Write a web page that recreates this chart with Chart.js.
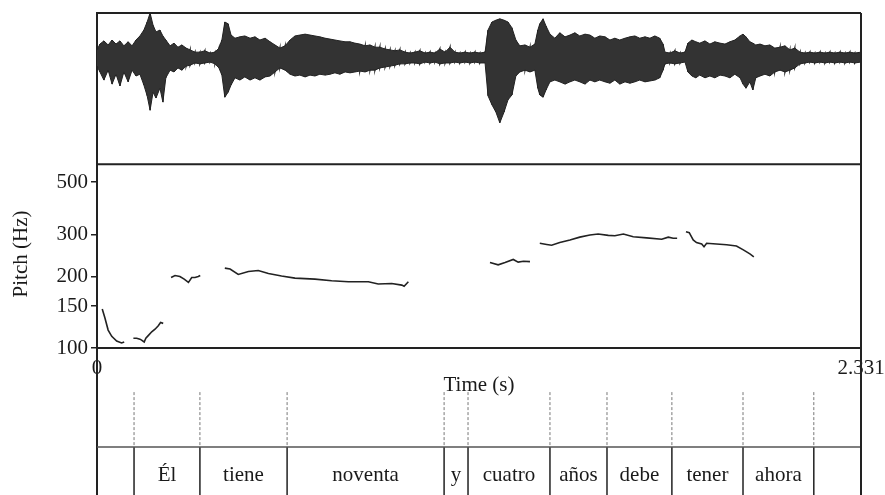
<!DOCTYPE html>
<html lang="es">
<head>
  <meta charset="UTF-8">
  <title>Pitch - Él tiene noventa y cuatro años</title>
  <script src="https://cdn.jsdelivr.net/npm/chart.js"></script>
  <style>
    body { margin: 0; background: #fff; }
    canvas { display: block; }
  </style>
</head>
<body>
  <canvas id="praatChart" width="885" height="495"></canvas>
  <script>
    // time span of the sound (s)
    const T_END = 2.331;
    const TIME_TICKS = [0, 2.331];

    // waveform envelope (time s, upper / lower amplitude)
    const WAVE_T = [0.000, 0.009, 0.021, 0.034, 0.046, 0.058, 0.070, 0.082, 0.095, 0.107,
      0.119, 0.131, 0.143, 0.153, 0.162, 0.171, 0.180, 0.192, 0.201, 0.210,
      0.223, 0.235, 0.247, 0.259, 0.272, 0.284, 0.299, 0.314, 0.329, 0.345,
      0.360, 0.372, 0.381, 0.390, 0.400, 0.409, 0.421, 0.436, 0.451, 0.467,
      0.482, 0.497, 0.513, 0.528, 0.543, 0.558, 0.574, 0.589, 0.604, 0.619,
      0.635, 0.650, 0.665, 0.680, 0.696, 0.711, 0.726, 0.741, 0.757, 0.772,
      0.787, 0.802, 0.818, 0.833, 0.848, 0.863, 0.879, 0.894, 0.909, 0.924,
      0.940, 0.955, 0.970, 0.985, 1.001, 1.016, 1.031, 1.046, 1.062, 1.077,
      1.092, 1.107, 1.123, 1.138, 1.153, 1.168, 1.184, 1.193, 1.205, 1.217,
      1.229, 1.242, 1.254, 1.266, 1.278, 1.290, 1.306, 1.321, 1.336, 1.345,
      1.351, 1.361, 1.370, 1.382, 1.397, 1.412, 1.428, 1.443, 1.458, 1.473,
      1.489, 1.504, 1.519, 1.534, 1.550, 1.565, 1.580, 1.595, 1.611, 1.626,
      1.641, 1.656, 1.672, 1.687, 1.702, 1.717, 1.727, 1.733, 1.748, 1.763,
      1.779, 1.794, 1.803, 1.815, 1.827, 1.839, 1.855, 1.870, 1.885, 1.901,
      1.916, 1.931, 1.946, 1.962, 1.971, 1.980, 1.992, 2.001, 2.010, 2.023,
      2.038, 2.053, 2.068, 2.084, 2.099, 2.114, 2.129, 2.145, 2.160, 2.175,
      2.190, 2.206, 2.221, 2.236, 2.251, 2.267, 2.282, 2.297, 2.312, 2.331];
    const WAVE_HI = [0.18, 0.31, 0.38, 0.29, 0.40, 0.31, 0.38, 0.27, 0.36, 0.27,
      0.40, 0.49, 0.62, 0.80, 1.00, 0.73, 0.58, 0.62, 0.49, 0.40,
      0.27, 0.33, 0.24, 0.29, 0.22, 0.18, 0.13, 0.13, 0.16, 0.11,
      0.13, 0.22, 0.40, 0.80, 0.76, 0.51, 0.44, 0.47, 0.49, 0.44,
      0.47, 0.40, 0.44, 0.36, 0.29, 0.22, 0.27, 0.40, 0.49, 0.51,
      0.53, 0.51, 0.49, 0.47, 0.44, 0.42, 0.40, 0.38, 0.36, 0.36,
      0.33, 0.31, 0.27, 0.29, 0.24, 0.24, 0.20, 0.18, 0.16, 0.18,
      0.13, 0.11, 0.13, 0.16, 0.11, 0.13, 0.11, 0.20, 0.13, 0.24,
      0.13, 0.11, 0.13, 0.11, 0.13, 0.11, 0.13, 0.62, 0.80, 0.84,
      0.87, 0.84, 0.80, 0.67, 0.40, 0.27, 0.29, 0.24, 0.31, 0.62,
      0.76, 0.87, 0.71, 0.53, 0.44, 0.56, 0.47, 0.51, 0.56, 0.49,
      0.53, 0.51, 0.44, 0.49, 0.47, 0.40, 0.44, 0.40, 0.44, 0.47,
      0.49, 0.44, 0.47, 0.44, 0.49, 0.44, 0.31, 0.13, 0.11, 0.16,
      0.11, 0.13, 0.33, 0.40, 0.36, 0.33, 0.38, 0.31, 0.36, 0.33,
      0.31, 0.36, 0.40, 0.49, 0.53, 0.47, 0.36, 0.33, 0.29, 0.31,
      0.27, 0.29, 0.22, 0.24, 0.27, 0.18, 0.22, 0.13, 0.11, 0.13,
      0.11, 0.13, 0.11, 0.13, 0.11, 0.13, 0.11, 0.13, 0.11, 0.13];
    const WAVE_LO = [-0.18, -0.31, -0.49, -0.27, -0.58, -0.36, -0.62, -0.31, -0.53, -0.27,
      -0.40, -0.36, -0.60, -0.84, -1.16, -0.76, -0.89, -0.67, -0.98, -0.44,
      -0.27, -0.31, -0.22, -0.27, -0.18, -0.16, -0.11, -0.13, -0.11, -0.09,
      -0.13, -0.22, -0.38, -0.87, -0.76, -0.60, -0.44, -0.49, -0.42, -0.49,
      -0.44, -0.49, -0.42, -0.40, -0.31, -0.22, -0.27, -0.36, -0.40, -0.38,
      -0.42, -0.38, -0.40, -0.36, -0.38, -0.36, -0.33, -0.36, -0.31, -0.33,
      -0.31, -0.29, -0.31, -0.27, -0.27, -0.22, -0.20, -0.18, -0.16, -0.13,
      -0.13, -0.11, -0.11, -0.13, -0.09, -0.11, -0.09, -0.13, -0.11, -0.11,
      -0.09, -0.11, -0.09, -0.11, -0.09, -0.11, -0.11, -0.84, -1.04, -1.20,
      -1.44, -1.20, -0.93, -0.82, -0.40, -0.31, -0.27, -0.31, -0.27, -0.67,
      -0.82, -0.87, -0.71, -0.53, -0.49, -0.53, -0.58, -0.53, -0.49, -0.53,
      -0.58, -0.49, -0.53, -0.49, -0.53, -0.56, -0.49, -0.58, -0.53, -0.56,
      -0.53, -0.49, -0.53, -0.51, -0.49, -0.44, -0.27, -0.13, -0.11, -0.13,
      -0.11, -0.09, -0.31, -0.40, -0.44, -0.38, -0.44, -0.40, -0.44, -0.38,
      -0.40, -0.44, -0.36, -0.44, -0.58, -0.67, -0.53, -0.71, -0.44, -0.40,
      -0.36, -0.40, -0.31, -0.27, -0.31, -0.27, -0.22, -0.13, -0.11, -0.09,
      -0.11, -0.09, -0.11, -0.09, -0.11, -0.09, -0.11, -0.09, -0.11, -0.09];

    // pitch contour, one array per voiced stretch (time s / Hz)
    const PITCH_T = [
      [0.016, 0.024, 0.034, 0.045, 0.060, 0.075, 0.083],
      [0.111, 0.121, 0.131, 0.136, 0.144, 0.149, 0.157, 0.167, 0.177, 0.187, 0.194, 0.202],
      [0.226, 0.238, 0.253, 0.266, 0.279, 0.289, 0.299, 0.309, 0.315],
      [0.390, 0.406, 0.431, 0.462, 0.492, 0.523, 0.563, 0.604, 0.665, 0.716, 0.767, 0.828, 0.858, 0.899, 0.930, 0.937, 0.950],
      [1.199, 1.224, 1.245, 1.270, 1.285, 1.301, 1.321],
      [1.351, 1.372, 1.387, 1.412, 1.443, 1.473, 1.504, 1.529, 1.560, 1.580, 1.606, 1.636, 1.677, 1.723, 1.743, 1.758, 1.770],
      [1.797, 1.807, 1.819, 1.829, 1.845, 1.852, 1.860, 1.890, 1.921, 1.951, 1.972, 1.992, 2.004]
    ];
    const PITCH_HZ = [
      [146, 134, 119, 112, 107, 105, 106],
      [110, 110, 109, 108, 106, 110, 113, 117, 120, 124, 128, 127],
      [198, 202, 200, 195, 189, 198, 198, 200, 202],
      [217, 215, 204, 210, 212, 206, 201, 197, 195, 192, 190, 190, 186, 187, 184, 182, 190],
      [229, 224, 229, 236, 230, 232, 231],
      [276, 273, 271, 278, 285, 293, 299, 302, 298, 297, 302, 294, 291, 287, 293, 290, 290],
      [309, 306, 285, 278, 274, 267, 276, 274, 272, 269, 259, 249, 242]
    ];
    const PITCH_TICKS = [100, 150, 200, 300, 500];

    // word tier
    const TIER_BOUNDS = [0.113, 0.314, 0.580, 1.059, 1.132, 1.382, 1.556, 1.754, 1.971, 2.187];
    const WORDS = ['', 'Él', 'tiene', 'noventa', 'y', 'cuatro', 'años', 'debe', 'tener', 'ahora', ''];

    // layout of the stacked panels on the shared plot area
    const WAVE_MIN = -2.36;     // bottom of the waveform box
    const TIER_LINE = 0.327;    // tier line inside the text grid
    const TIER_DASH_TOP = 0.70; // upper end of the dotted boundary marks
    const WORD_Y = 0.135;

    const SERIF = '"Liberation Serif", "Times New Roman", serif';
    const INK = '#1a1a1a';

    const waveHi = WAVE_T.map((t, i) => ({x: t, y: WAVE_HI[i]}));
    const waveLo = WAVE_T.map((t, i) => ({x: t, y: WAVE_LO[i]}));
    // same samples joined top-bottom-top so the trace shows vertical strokes
    const waveTrace = WAVE_T.flatMap((t, i) => [{x: t, y: WAVE_HI[i]}, {x: t, y: WAVE_LO[i]}]);

    const pitchSets = PITCH_T.map((ts, k) => ({
      label: 'pitch ' + (k + 1),
      data: ts.map((t, i) => ({x: t, y: PITCH_HZ[k][i]})),
      yAxisID: 'yPitch',
      borderColor: '#222',
      borderWidth: 1.6,
      pointRadius: 0,
      tension: 0,
      fill: false
    }));

    const dashedMarks = TIER_BOUNDS.flatMap(t => [{x: t, y: TIER_DASH_TOP}, {x: t, y: TIER_LINE}, {x: t, y: null}]);
    const solidMarks = TIER_BOUNDS.flatMap(t => [{x: t, y: TIER_LINE}, {x: t, y: 0}, {x: t, y: null}]);

    // frame boxes and the words of the tier
    const praatFrame = {
      id: 'praatFrame',
      afterDatasetsDraw(chart) {
        const {ctx, chartArea: a, scales} = chart;
        const x = scales.x;
        const yDiv = scales.yWave.getPixelForValue(WAVE_MIN);
        ctx.save();
        ctx.strokeStyle = '#222';
        ctx.lineWidth = 2;
        ctx.beginPath();
        ctx.moveTo(a.left, a.top); ctx.lineTo(a.right, a.top);
        ctx.moveTo(a.left, yDiv); ctx.lineTo(a.right, yDiv);
        ctx.moveTo(a.right, a.top); ctx.lineTo(a.right, a.bottom);
        ctx.stroke();

        const edges = [0, ...TIER_BOUNDS, T_END];
        const wy = scales.yTier.getPixelForValue(WORD_Y);
        ctx.fillStyle = INK;
        ctx.font = '21px ' + SERIF;
        ctx.textAlign = 'center';
        ctx.textBaseline = 'middle';
        WORDS.forEach((w, i) => {
          if (!w) return;
          const cx = (x.getPixelForValue(edges[i]) + x.getPixelForValue(edges[i + 1])) / 2;
          ctx.fillText(w, cx, wy);
        });
        ctx.restore();
      }
    };

    new Chart(document.getElementById('praatChart'), {
      type: 'line',
      data: {
        datasets: [
          {
            label: 'wave top', data: waveHi, yAxisID: 'yWave',
            borderColor: '#222', borderWidth: 1, pointRadius: 0, tension: 0, fill: false
          },
          {
            label: 'wave bottom', data: waveLo, yAxisID: 'yWave',
            borderColor: '#222', borderWidth: 1, pointRadius: 0, tension: 0,
            fill: '-1', backgroundColor: '#333'
          },
          {
            label: 'wave trace', data: waveTrace, yAxisID: 'yWave',
            borderColor: '#000', borderWidth: 1.2, pointRadius: 0, tension: 0, fill: false
          },
          ...pitchSets,
          {
            label: 'tier line', data: [{x: 0, y: TIER_LINE}, {x: T_END, y: TIER_LINE}], yAxisID: 'yTier',
            borderColor: '#555', borderWidth: 1.5, pointRadius: 0, fill: false
          },
          {
            label: 'boundaries dotted', data: dashedMarks, yAxisID: 'yTier',
            borderColor: '#777', borderWidth: 1, borderDash: [3, 2], pointRadius: 0, spanGaps: false, fill: false
          },
          {
            label: 'boundaries', data: solidMarks, yAxisID: 'yTier',
            borderColor: '#222', borderWidth: 1.5, pointRadius: 0, spanGaps: false, fill: false
          }
        ]
      },
      options: {
        responsive: false,
        animation: false,
        layout: {padding: {left: 0, top: 13, right: 24, bottom: 0}},
        plugins: {legend: {display: false}, tooltip: {enabled: false}},
        scales: {
          x: {
            type: 'linear', min: 0, max: T_END,
            position: {yPitch: 100},
            afterBuildTicks: s => { s.ticks = TIME_TICKS.map(v => ({value: v})); },
            afterFit: s => { s.paddingLeft = 0; s.paddingRight = 0; },
            ticks: {callback: v => String(v), font: {family: SERIF, size: 21}, color: INK, padding: 8, maxRotation: 0, autoSkip: false},
            grid: {drawOnChartArea: false, drawTicks: false},
            border: {display: true, color: '#222', width: 2},
            title: {display: true, text: 'Time (s)', font: {family: SERIF, size: 21}, color: INK, padding: {top: -16, bottom: 0}}
          },
          yPitch: {
            type: 'logarithmic', position: 'left', min: 24.05, max: 2574,
            afterBuildTicks: s => { s.ticks = PITCH_TICKS.map(v => ({value: v})); },
            afterFit: s => { s.width = 97; s.paddingTop = 0; s.paddingBottom = 0; },
            ticks: {callback: v => String(v), font: {family: SERIF, size: 21}, color: INK, padding: 3, autoSkip: false},
            grid: {drawOnChartArea: false, drawTicks: true, tickLength: 6, color: '#222', lineWidth: 1.5},
            border: {display: true, color: '#222', width: 2},
            title: {display: true, text: 'Pitch (Hz)', font: {family: SERIF, size: 21}, color: INK, padding: {top: 9, bottom: 0}}
          },
          yWave: {type: 'linear', display: false, min: -9.71, max: 1},
          yTier: {type: 'linear', display: false, min: 0, max: 3.279}
        }
      },
      plugins: [praatFrame]
    });
  </script>
</body>
</html>
